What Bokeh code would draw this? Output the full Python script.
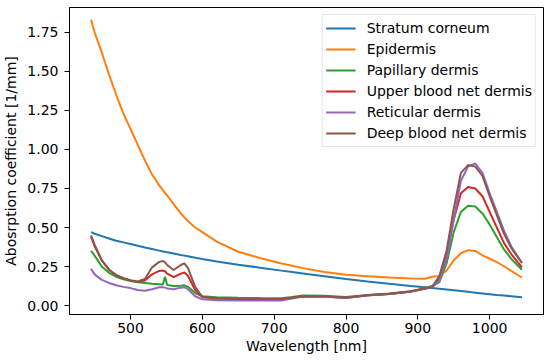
from bokeh.plotting import figure
from bokeh.models import ColumnDataSource, Range1d, FixedTicker, NumeralTickFormatter
from bokeh.embed import file_html
from bokeh.resources import INLINE

wavelength = [445, 450, 460, 470, 480, 490, 500, 510, 520, 530, 540, 545, 548, 551, 560, 570, 575, 580, 590, 600,
              620, 650, 680, 710, 725, 740, 770, 800, 830, 860, 890, 910, 920, 930, 940, 950, 960, 970, 980, 990,
              1000, 1010, 1020, 1030, 1045]

stratum_corneum = [0.47, 0.46, 0.445, 0.43, 0.415, 0.405, 0.395, 0.383, 0.372, 0.362, 0.352, 0.347, 0.344, 0.341,
                   0.333, 0.324, 0.320, 0.316, 0.307, 0.298, 0.283, 0.262, 0.243, 0.224, 0.215, 0.206, 0.188, 0.171,
                   0.155, 0.140, 0.126, 0.117, 0.112, 0.108, 0.103, 0.098, 0.093, 0.088, 0.083, 0.078, 0.073, 0.068,
                   0.064, 0.060, 0.053]

epidermis = [1.83, 1.75, 1.62, 1.48, 1.35, 1.23, 1.13, 1.03, 0.93, 0.84, 0.77, 0.74, 0.72, 0.705, 0.65, 0.59, 0.565,
             0.54, 0.50, 0.47, 0.41, 0.345, 0.305, 0.27, 0.255, 0.24, 0.215, 0.198, 0.188, 0.18, 0.174, 0.172, 0.185,
             0.19, 0.225, 0.29, 0.335, 0.355, 0.35, 0.322, 0.30, 0.278, 0.252, 0.222, 0.18]

papillary_dermis = [0.35, 0.32, 0.25, 0.21, 0.185, 0.168, 0.157, 0.15, 0.145, 0.14, 0.137, 0.135, 0.185, 0.132,
                    0.125, 0.127, 0.13, 0.12, 0.08, 0.06, 0.053, 0.05, 0.048, 0.047, 0.055, 0.065, 0.063, 0.055,
                    0.068, 0.077, 0.092, 0.112, 0.125, 0.15, 0.27, 0.47, 0.6, 0.64, 0.635, 0.59, 0.52, 0.44, 0.36,
                    0.30, 0.23]

upper_blood_net = [0.44, 0.38, 0.29, 0.23, 0.195, 0.175, 0.16, 0.152, 0.16, 0.2, 0.222, 0.224, 0.22, 0.205, 0.182,
                   0.205, 0.212, 0.19, 0.10, 0.055, 0.045, 0.042, 0.04, 0.04, 0.05, 0.06, 0.058, 0.05, 0.067, 0.075,
                   0.09, 0.11, 0.12, 0.17, 0.32, 0.55, 0.72, 0.76, 0.75, 0.70, 0.60, 0.50, 0.40, 0.33, 0.245]

reticular_dermis = [0.235, 0.2, 0.165, 0.145, 0.13, 0.12, 0.112, 0.10, 0.095, 0.105, 0.118, 0.118, 0.115, 0.11,
                    0.105, 0.115, 0.118, 0.105, 0.06, 0.04, 0.035, 0.033, 0.032, 0.033, 0.045, 0.058, 0.056, 0.048,
                    0.065, 0.074, 0.088, 0.108, 0.118, 0.16, 0.30, 0.55, 0.80, 0.89, 0.91, 0.85, 0.72, 0.60, 0.48,
                    0.38, 0.273]

deep_blood_net = [0.45, 0.39, 0.29, 0.23, 0.195, 0.175, 0.162, 0.155, 0.17, 0.245, 0.28, 0.285, 0.278, 0.26, 0.228,
                  0.26, 0.27, 0.24, 0.12, 0.055, 0.045, 0.042, 0.04, 0.04, 0.05, 0.06, 0.058, 0.05, 0.067, 0.075,
                  0.09, 0.11, 0.12, 0.19, 0.35, 0.62, 0.85, 0.90, 0.89, 0.83, 0.70, 0.58, 0.46, 0.37, 0.273]

series_names = ["Stratum corneum", "Epidermis", "Papillary dermis", "Upper blood net dermis",
                "Reticular dermis", "Deep blood net dermis"]
series_keys = ["sc", "ep", "pd", "ub", "rd", "db"]
colors = ["#1f77b4", "#ff7f0e", "#2ca02c", "#d62728", "#9467bd", "#8c564b"]

x_ticks = [500, 600, 700, 800, 900, 1000]
y_ticks = [0.0, 0.25, 0.5, 0.75, 1.0, 1.25, 1.5, 1.75]

source = ColumnDataSource(dict(wl=wavelength, sc=stratum_corneum, ep=epidermis, pd=papillary_dermis,
                               ub=upper_blood_net, rd=reticular_dermis, db=deep_blood_net))

FONT = "DejaVu Sans"

p = figure(width=550, height=360, output_backend="svg", toolbar_location=None,
           x_range=Range1d(415, 1075), y_range=Range1d(-0.057, 1.909),
           min_border_left=69, min_border_right=7, min_border_top=7, min_border_bottom=46)

for key, name, c in zip(series_keys, series_names, colors):
    p.line("wl", key, source=source, line_color=c, line_width=2, legend_label=name)

p.xgrid.visible = False
p.ygrid.visible = False
p.outline_line_color = "black"
p.outline_line_width = 1
p.background_fill_color = "white"
p.border_fill_color = "white"

p.xaxis.ticker = FixedTicker(ticks=x_ticks)
p.yaxis.ticker = FixedTicker(ticks=y_ticks)
p.yaxis.formatter = NumeralTickFormatter(format="0.00")

p.xaxis.axis_label = "Wavelength [nm]"
p.yaxis.axis_label = "Abosrption coefficient [1/mm]"

for ax in (p.xaxis, p.yaxis):
    ax.axis_line_color = "black"
    ax.major_tick_line_color = "black"
    ax.minor_tick_line_color = None
    ax.major_tick_out = 5
    ax.major_tick_in = 0
    ax.major_label_text_font = FONT
    ax.major_label_text_font_size = "14px"
    ax.major_label_text_color = "black"
    ax.axis_label_text_font = FONT
    ax.axis_label_text_font_size = "14px"
    ax.axis_label_text_font_style = "normal"
    ax.axis_label_text_color = "black"

p.xaxis.major_label_standoff = 3
p.xaxis.axis_label_standoff = 2
p.yaxis.major_label_standoff = 6
p.yaxis.axis_label_standoff = 5

lg = p.legend[0]
lg.location = "top_right"
lg.margin = 7
lg.padding = 3
lg.spacing = 1
lg.glyph_width = 30
lg.glyph_height = 20
lg.label_height = 20
lg.label_standoff = 11
lg.label_text_font = FONT
lg.label_text_font_size = "14px"
lg.label_text_color = "black"
lg.border_line_color = "#cccccc"
lg.border_line_width = 1
lg.background_fill_alpha = 0.8

open("out.html", "w").write(file_html(p, INLINE))
